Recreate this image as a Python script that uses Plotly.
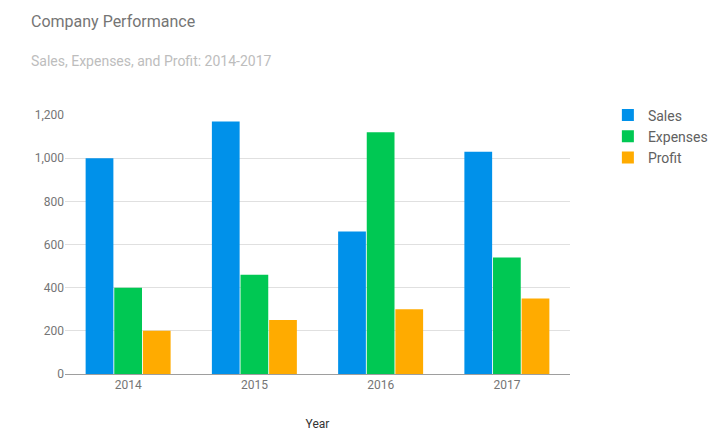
import plotly.graph_objs as go

years = ['2014', '2015', '2016', '2017']
sales = [1000, 1170, 660, 1030]
expenses = [400, 460, 1120, 540]
profit = [200, 250, 300, 350]
y_ticks = [0, 200, 400, 600, 800, 1000, 1200]

colors = {'Sales': '#0091EA', 'Expenses': '#00C853', 'Profit': '#FFAB00'}

traces = [go.Bar(x=years, y=vals, name=name, marker=dict(color=colors[name], line=dict(width=0)))
          for name, vals in [('Sales', sales), ('Expenses', expenses), ('Profit', profit)]]

layout = go.Layout(
    width=717, height=445,
    font=dict(family='Roboto', size=12, color='#757575'),
    paper_bgcolor='white', plot_bgcolor='white',
    margin=dict(l=57, r=145, t=107, b=79),
    barmode='group', bargap=0.32, bargroupgap=0.03,
    xaxis=dict(showgrid=False, showline=True, linecolor='#9e9e9e', ticks='',
               title=dict(text='Year', font=dict(size=12, color='#333333'), standoff=28)),
    yaxis=dict(range=[0, 1200], tickvals=y_ticks, tickformat=',', gridcolor='#e0e0e0',
               zeroline=False, showline=False, ticks='', ticklen=0),
    legend=dict(x=1.075, y=1.06, xanchor='left', yanchor='top',
                font=dict(size=14, color='#616161'), tracegroupgap=14),
    annotations=[
        dict(text='Company Performance', xref='paper', yref='paper', x=-0.072, y=1.36,
             xanchor='left', yanchor='middle', showarrow=False,
             font=dict(size=16, color='#757575')),
        dict(text='Sales, Expenses, and Profit: 2014-2017', xref='paper', yref='paper',
             x=-0.072, y=1.21, xanchor='left', yanchor='middle', showarrow=False,
             font=dict(size=14, color='#bdbdbd')),
    ],
)

fig = go.Figure(data=traces, layout=layout)
fig.write_html('out.html')
